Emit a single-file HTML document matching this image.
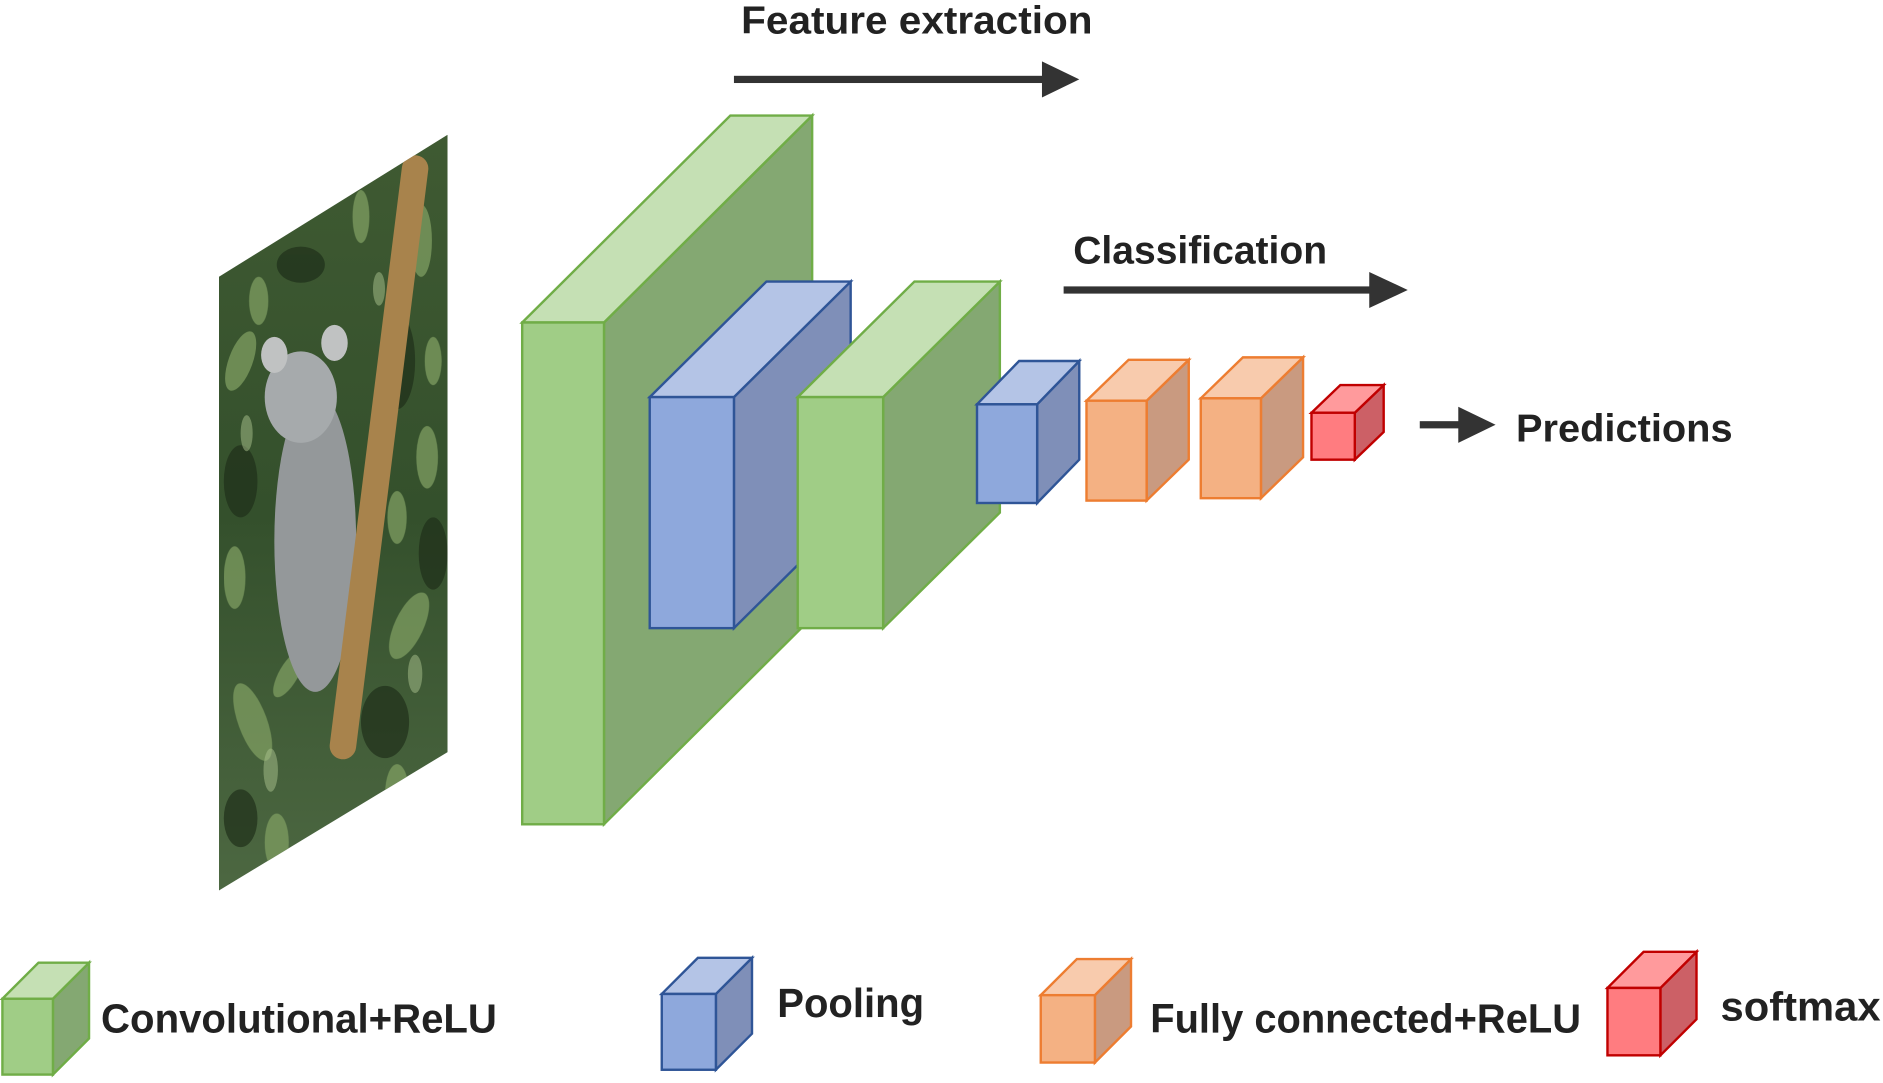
<!DOCTYPE html>
<html><head><meta charset="utf-8"><style>html,body{margin:0;padding:0;background:#fff}svg{display:block}</style></head>
<body>
<svg width="1883" height="1083" viewBox="0 0 1565 900" preserveAspectRatio="none" xmlns="http://www.w3.org/2000/svg" font-family="Liberation Sans, sans-serif" font-weight="bold">
<defs>
<clipPath id="img"><polygon points="182,230 372,112 372,625 182,740"/></clipPath>
<linearGradient id="bg" x1="0" y1="0" x2="0" y2="1"><stop offset="0" stop-color="#3f5a32"/><stop offset="0.5" stop-color="#34502c"/><stop offset="1" stop-color="#4d6842"/></linearGradient>
</defs>
<!-- photo -->
<g clip-path="url(#img)">
<rect x="180" y="110" width="195" height="635" fill="url(#bg)"/>
<g fill="#1f2f1a" opacity="0.7">
<ellipse cx="330" cy="300" rx="15" ry="40"/><ellipse cx="200" cy="400" rx="14" ry="30"/><ellipse cx="320" cy="600" rx="20" ry="30"/><ellipse cx="250" cy="220" rx="20" ry="15"/><ellipse cx="360" cy="460" rx="12" ry="30"/><ellipse cx="200" cy="680" rx="14" ry="24"/>
</g>
<g fill="#7f9e62" opacity="0.75">
<ellipse cx="200" cy="300" rx="10" ry="26" transform="rotate(20 200 300)"/><ellipse cx="350" cy="200" rx="9" ry="30"/><ellipse cx="210" cy="600" rx="12" ry="34" transform="rotate(-20 210 600)"/><ellipse cx="340" cy="520" rx="12" ry="30" transform="rotate(25 340 520)"/><ellipse cx="230" cy="700" rx="10" ry="24"/><ellipse cx="300" cy="180" rx="7" ry="22"/><ellipse cx="195" cy="480" rx="9" ry="26"/><ellipse cx="355" cy="380" rx="9" ry="26"/><ellipse cx="240" cy="560" rx="8" ry="22" transform="rotate(30 240 560)"/><ellipse cx="330" cy="660" rx="10" ry="25"/><ellipse cx="290" cy="700" rx="8" ry="20"/><ellipse cx="215" cy="250" rx="8" ry="20"/><ellipse cx="360" cy="300" rx="7" ry="20"/><ellipse cx="330" cy="430" rx="8" ry="22"/>
</g>
<g fill="#a9c28e" opacity="0.5">
<ellipse cx="225" cy="640" rx="6" ry="18"/><ellipse cx="345" cy="560" rx="6" ry="16"/><ellipse cx="205" cy="360" rx="5" ry="15"/><ellipse cx="315" cy="240" rx="5" ry="14"/>
</g>
<ellipse cx="262" cy="450" rx="34" ry="125" fill="#94989a"/>
<ellipse cx="250" cy="330" rx="30" ry="38" fill="#a6aaac"/>
<ellipse cx="228" cy="295" rx="11" ry="15" fill="#c0c2c2"/><ellipse cx="278" cy="285" rx="11" ry="15" fill="#c0c2c2"/>
<line x1="345" y1="140" x2="285" y2="620" stroke="#a8834c" stroke-width="22" stroke-linecap="round"/>
</g>
<!-- big green -->
<g stroke="#70ad47" stroke-width="2">
<polygon points="502,268 675,96 675,513 502,685" fill="#84a872"/>
<polygon points="434,268 607,96 675,96 502,268" fill="#c5e0b4"/>
<rect x="434" y="268" width="68" height="417" fill="#a0cd86"/>
</g>
<!-- blue 1 -->
<g stroke="#2f5597" stroke-width="2">
<polygon points="610,330 707,234 707,426 610,522" fill="#7f8fb8"/>
<polygon points="540,330 637,234 707,234 610,330" fill="#b4c4e6"/>
<rect x="540" y="330" width="70" height="192" fill="#8ea8dc"/>
</g>
<!-- green 2 -->
<g stroke="#70ad47" stroke-width="2">
<polygon points="734,330 831,234 831,426 734,522" fill="#84a872"/>
<polygon points="663,330 760,234 831,234 734,330" fill="#c5e0b4"/>
<rect x="663" y="330" width="71" height="192" fill="#a0cd86"/>
</g>
<!-- blue small -->
<g stroke="#2f5597" stroke-width="2">
<polygon points="862,336 897,300 897,382 862,418" fill="#7f8fb8"/>
<polygon points="812,336 847,300 897,300 862,336" fill="#b4c4e6"/>
<rect x="812" y="336" width="50" height="82" fill="#8ea8dc"/>
</g>
<!-- orange 1 -->
<g stroke="#ed7d31" stroke-width="2">
<polygon points="953,333 988,299 988,382 953,416" fill="#c99a80"/>
<polygon points="903,333 938,299 988,299 953,333" fill="#f8cbad"/>
<rect x="903" y="333" width="50" height="83" fill="#f4b183"/>
</g>
<!-- orange 2 -->
<g stroke="#ed7d31" stroke-width="2">
<polygon points="1048,331 1083,297 1083,380 1048,414" fill="#c99a80"/>
<polygon points="998,331 1033,297 1083,297 1048,331" fill="#f8cbad"/>
<rect x="998" y="331" width="50" height="83" fill="#f4b183"/>
</g>
<!-- red -->
<g stroke="#c00000" stroke-width="2">
<polygon points="1126,343 1150,320 1150,359 1126,382" fill="#cc6066"/>
<polygon points="1090,343 1114,320 1150,320 1126,343" fill="#ff9a9c"/>
<rect x="1090" y="343" width="36" height="39" fill="#ff7c80"/>
</g>
<!-- arrows -->
<g fill="#333" stroke="none">
<rect x="610" y="63" width="260" height="6"/><polygon points="866,51 897,66 866,81"/>
<rect x="884" y="238" width="258" height="6"/><polygon points="1138,226 1170,241 1138,256"/>
<rect x="1180" y="350" width="36" height="6"/><polygon points="1212,338 1243,353 1212,368"/>
</g>
<g fill="#222">
<text x="616" y="28" font-size="32" textLength="292" lengthAdjust="spacingAndGlyphs">Feature extraction</text>
<text x="892" y="219" font-size="32" textLength="211" lengthAdjust="spacingAndGlyphs">Classification</text>
<text x="1260" y="367" font-size="32" textLength="180" lengthAdjust="spacingAndGlyphs">Predictions</text>
</g>
<!-- legend -->
<g stroke="#70ad47" stroke-width="2">
<polygon points="44,830 74,800 74,863 44,893" fill="#84a872"/>
<polygon points="2,830 32,800 74,800 44,830" fill="#c5e0b4"/>
<rect x="2" y="830" width="42" height="63" fill="#a0cd86"/>
</g>
<g stroke="#2f5597" stroke-width="2">
<polygon points="595,826 625,796 625,859 595,889" fill="#7f8fb8"/>
<polygon points="550,826 580,796 625,796 595,826" fill="#b4c4e6"/>
<rect x="550" y="826" width="45" height="63" fill="#8ea8dc"/>
</g>
<g stroke="#ed7d31" stroke-width="2">
<polygon points="910,827 940,797 940,853 910,883" fill="#c99a80"/>
<polygon points="865,827 895,797 940,797 910,827" fill="#f8cbad"/>
<rect x="865" y="827" width="45" height="56" fill="#f4b183"/>
</g>
<g stroke="#c00000" stroke-width="2">
<polygon points="1380,821 1410,791 1410,847 1380,877" fill="#cc6066"/>
<polygon points="1336,821 1366,791 1410,791 1380,821" fill="#ff9a9c"/>
<rect x="1336" y="821" width="44" height="56" fill="#ff7c80"/>
</g>
<g fill="#222" font-size="34">
<text x="84" y="858" textLength="329" lengthAdjust="spacingAndGlyphs">Convolutional+ReLU</text>
<text x="646" y="845" textLength="122" lengthAdjust="spacingAndGlyphs">Pooling</text>
<text x="956" y="858" textLength="358" lengthAdjust="spacingAndGlyphs">Fully connected+ReLU</text>
<text x="1430" y="848" textLength="133" lengthAdjust="spacingAndGlyphs">softmax</text>
</g>
</svg>
</body></html>
